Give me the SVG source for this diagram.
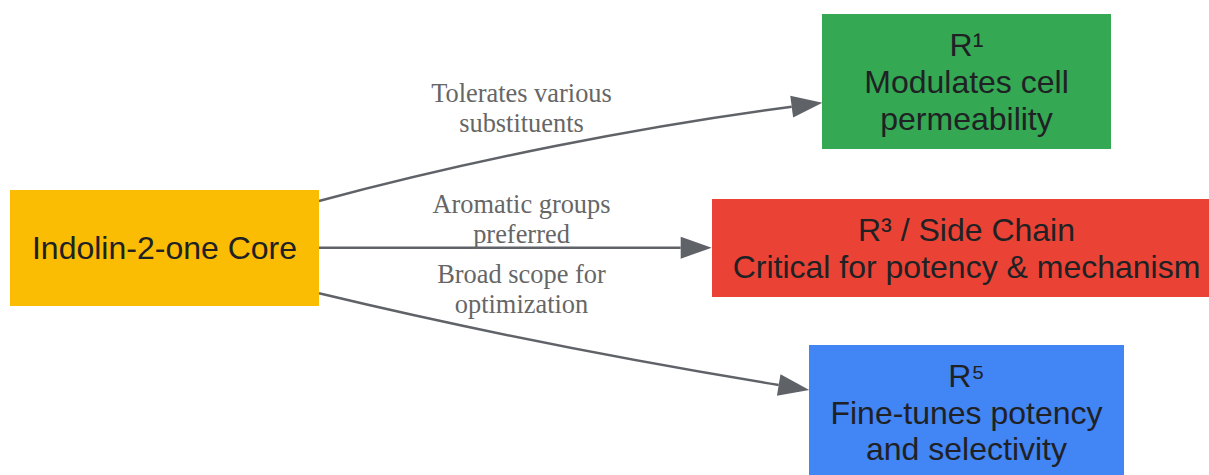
<svg xmlns="http://www.w3.org/2000/svg" width="1209" height="475" viewBox="0 0 1209 475">
  <style>
    .node-text { font-family: "Liberation Sans", Arial, sans-serif; font-size: 32px; fill: #202124; text-anchor: middle; }
    .edge-label { font-family: "Liberation Serif", "Times New Roman", serif; font-size: 26.4px; fill: #666666; text-anchor: middle; }
    .edge { fill: none; stroke: #5f6368; stroke-width: 2.5; }
  </style>
  <defs>
    <marker id="arrow" markerUnits="userSpaceOnUse" markerWidth="31" markerHeight="22" refX="0" refY="11" orient="auto" overflow="visible">
      <path d="M0,0 L31,11 L0,22 Z" fill="#5f6368"/>
    </marker>
  </defs>
  <rect width="1209" height="475" fill="#ffffff"/>

  <g id="connectors">
    <path class="edge" d="M319,201 C469,160.5 641.7,126.3 791.7,106.7" marker-end="url(#arrow)"/>
    <path class="edge" d="M319,247.7 L680.7,247.7" marker-end="url(#arrow)"/>
    <path class="edge" d="M319,293.3 C469,329.3 628.7,360.5 778.7,385" marker-end="url(#arrow)"/>
    <text class="edge-label" x="521.5" y="101.7">Tolerates various</text>
    <text class="edge-label" x="521.5" y="131.7">substituents</text>
    <text class="edge-label" x="521.5" y="213">Aromatic groups</text>
    <text class="edge-label" x="521.5" y="242.5">preferred</text>
    <text class="edge-label" x="521.5" y="283.3">Broad scope for</text>
    <text class="edge-label" x="521.5" y="313.3">optimization</text>
  </g>

  <g id="core">
    <rect x="10" y="190" width="309" height="116" fill="#fbbc04"/>
    <text class="node-text" x="164.5" y="259.3">Indolin-2-one Core</text>
  </g>

  <g id="r1">
    <rect x="822" y="14" width="289" height="135" fill="#34a853"/>
    <text class="node-text" x="966.5" y="56">R¹</text>
    <text class="node-text" x="966.5" y="93">Modulates cell</text>
    <text class="node-text" x="966.5" y="129.5">permeability</text>
  </g>

  <g id="r3">
    <rect x="712" y="199" width="509" height="98" fill="#ea4335"/>
    <text class="node-text" x="966.5" y="240.5">R³ / Side Chain</text>
    <text class="node-text" x="966.5" y="277.5">Critical for potency &amp; mechanism</text>
  </g>

  <g id="r5">
    <rect x="809" y="345" width="315" height="135" fill="#4285f4"/>
    <text class="node-text" x="966.5" y="387">R⁵</text>
    <text class="node-text" x="966.5" y="423.5">Fine-tunes potency</text>
    <text class="node-text" x="966.5" y="460">and selectivity</text>
  </g>
</svg>
